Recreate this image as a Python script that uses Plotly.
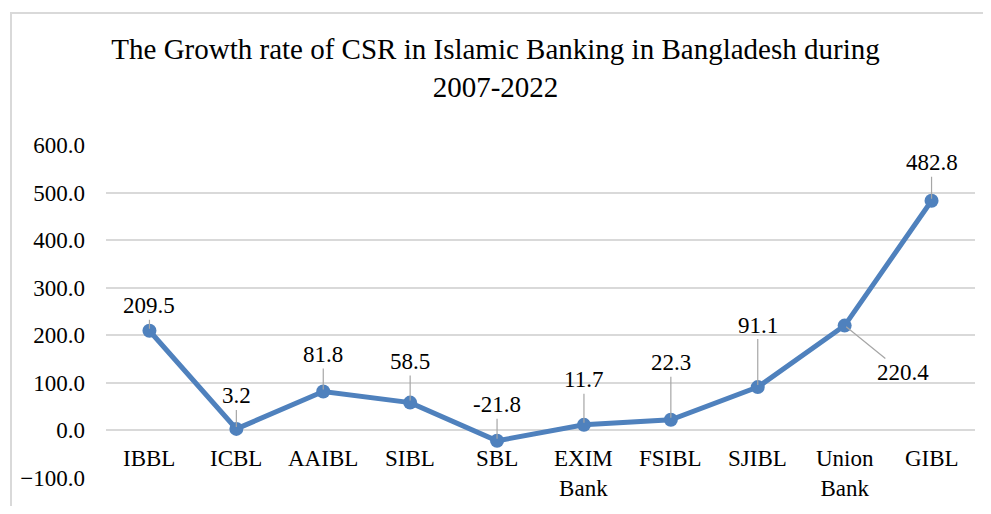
import plotly.graph_objects as go

banks = ["IBBL", "ICBL", "AAIBL", "SIBL", "SBL", "EXIM<br>Bank", "FSIBL", "SJIBL", "Union<br>Bank", "GIBL"]
growth = [209.5, 3.2, 81.8, 58.5, -21.8, 11.7, 22.3, 91.1, 220.4, 482.8]
# label offsets (px) for data labels: (dx, dy)
label_dx = [0, 0, 0, 0, 0, 0, 0, 0, 58, 0]
label_dy = [-25, -33, -37, -41, -36, -45, -57, -62, 47, -38]
y_ticks = [-100, 0, 100, 200, 300, 400, 500, 600]

FONT = "Liberation Serif"
BLUE = "#4F81BD"

x_idx = list(range(len(banks)))

fig = go.Figure()
fig.add_trace(go.Scatter(
    x=x_idx, y=growth, mode="lines+markers",
    line=dict(color=BLUE, width=5),
    marker=dict(color=BLUE, size=14),
    hoverinfo="skip", showlegend=False,
))

annotations = []
for i, (v, dx, dy) in enumerate(zip(growth, label_dx, label_dy)):
    annotations.append(dict(
        x=i, y=v, xref="x", yref="y", text=f"{v:.1f}",
        showarrow=True, arrowhead=0, arrowwidth=1.2, arrowcolor="#a6a6a6",
        ax=dx, ay=dy, standoff=2,
        font=dict(family=FONT, size=23, color="#000000"),
    ))
for i, name in enumerate(banks):
    annotations.append(dict(
        x=i, y=0, xref="x", yref="y", text=name, showarrow=False,
        yanchor="top", yshift=-14,
        font=dict(family=FONT, size=23, color="#000000"),
    ))

fig.update_layout(
    width=975, height=498,
    margin=dict(l=98, r=8, t=137, b=28),
    paper_bgcolor="white", plot_bgcolor="white",
    title=dict(
        text="The Growth rate of CSR in Islamic Banking in Bangladesh during<br>2007-2022",
        x=0.5, xanchor="center", y=0.8976, yanchor="middle",
        font=dict(family=FONT, size=29, color="#000000"),
    ),
    xaxis=dict(range=[-0.5, len(banks) - 0.5], showgrid=False, zeroline=False,
               showticklabels=False, showline=False, fixedrange=True),
    yaxis=dict(range=[-100, 600], tickvals=y_ticks, tickformat=".1f",
               showgrid=True, gridcolor="#d9d9d9", gridwidth=1.5,
               zeroline=False, showline=False, ticks="", ticklabelstandoff=20,
               tickfont=dict(family=FONT, size=23, color="#000000")),
    annotations=annotations,
    shapes=[dict(type="rect", xref="paper", yref="paper",
                 x0=-0.1093, x1=1.2, y0=-0.3, y1=1.3964,
                 line=dict(color="#d9d9d9", width=2), layer="below")],
)

fig.write_html("out.html")
